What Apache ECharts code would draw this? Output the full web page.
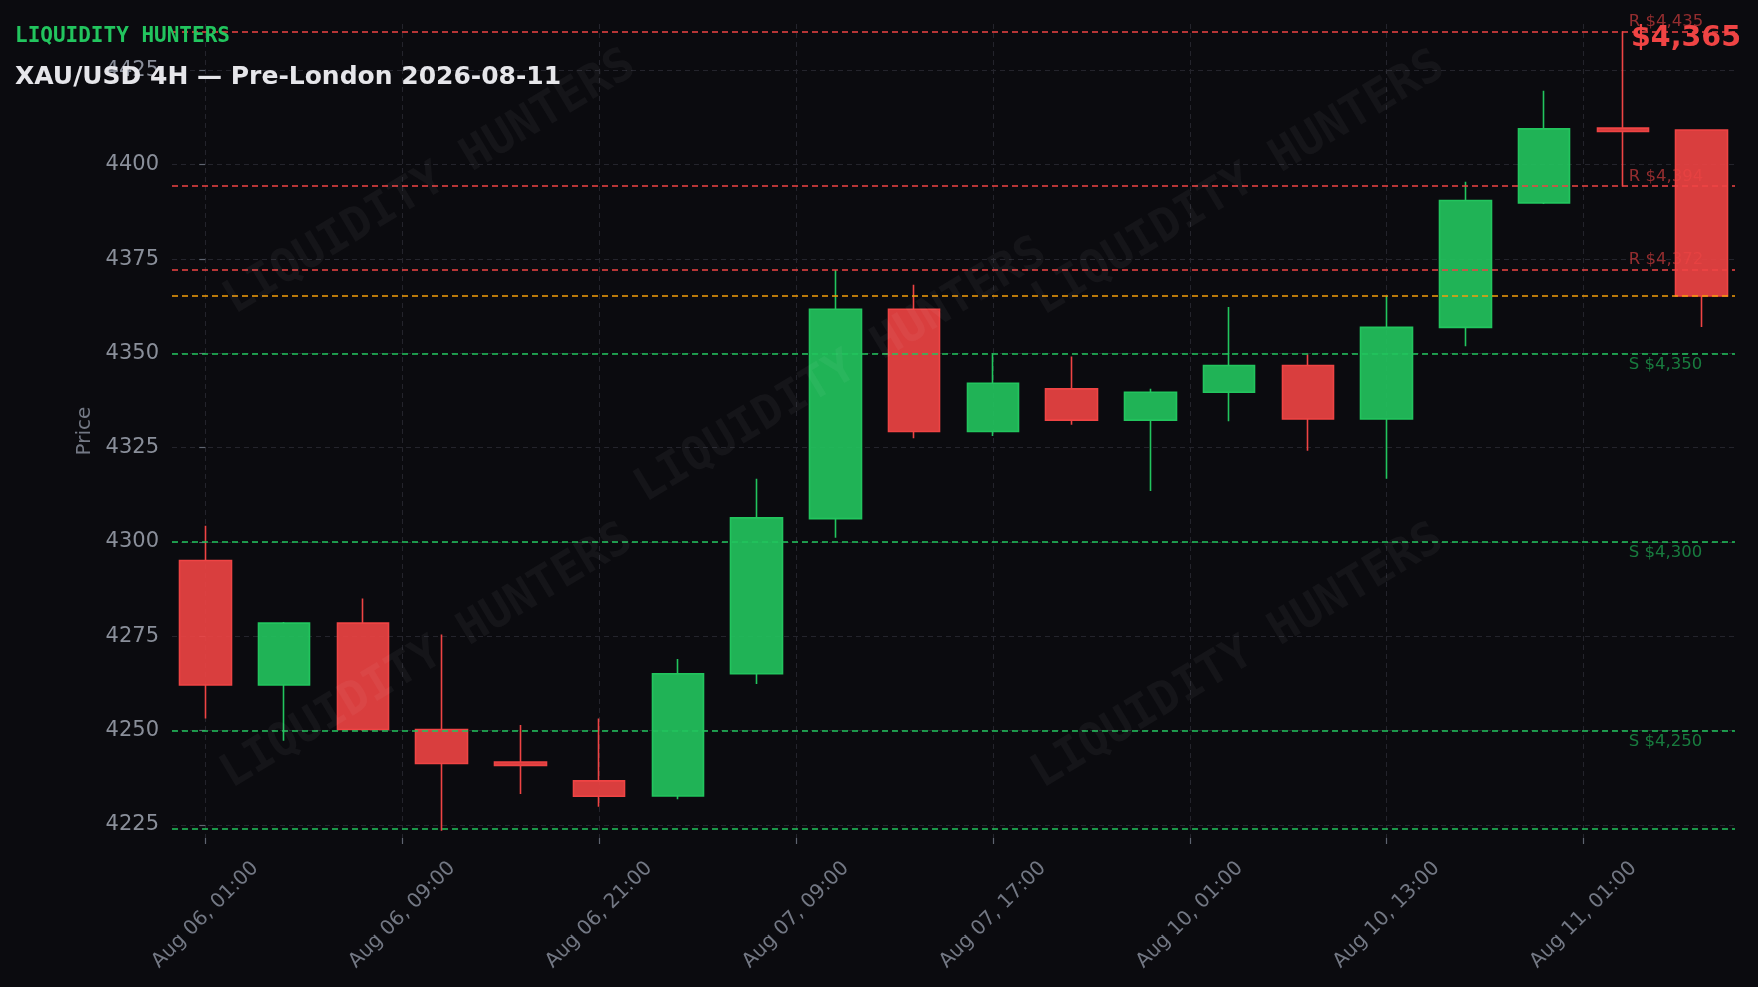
<!DOCTYPE html>
<html><head><meta charset="utf-8">
<script src="https://cdn.jsdelivr.net/npm/echarts@6/dist/echarts.min.js"></script>
<style>html,body{margin:0;padding:0;background:#0b0b0f;}#c{width:1758px;height:987px;}</style>
</head><body><div id="c"></div>
<script>
// ---- data ----
const tickPositions = [0, 2.5, 5, 7.5, 10, 12.5, 15, 17.5];
const tickLabels = ['Aug 06, 01:00','Aug 06, 09:00','Aug 06, 21:00','Aug 07, 09:00','Aug 07, 17:00','Aug 10, 01:00','Aug 10, 13:00','Aug 11, 01:00'];
const yTicks = [4225, 4250, 4275, 4300, 4325, 4350, 4375, 4400, 4425];
const opens  = [4295.1,4262.1,4278.5,4250.3,4241.7,4236.7,4232.7,4265.1,4306.2,4361.7,4329.3,4340.6,4332.3,4339.7,4346.8,4332.6,4356.9,4389.9,4409.7,4409.2];
const closes = [4262.1,4278.5,4250.3,4241.3,4240.8,4232.6,4265.1,4306.4,4361.7,4329.3,4342.1,4332.3,4339.7,4346.8,4332.6,4356.9,4390.5,4409.5,4408.8,4365.2];
const lows   = [4253.2,4247.3,4250.0,4223.5,4233.2,4229.8,4231.8,4262.4,4301.1,4327.5,4328.1,4331.1,4313.5,4332.0,4324.2,4316.8,4351.9,4389.6,4394.2,4357.0];
const highs  = [4304.3,4278.8,4285.0,4275.5,4251.5,4253.2,4269.0,4316.8,4372.1,4368.2,4350.0,4349.2,4340.6,4362.3,4349.8,4365.2,4395.5,4419.6,4435.4,4409.4];
const resistance = [4435.3, 4394.3, 4372.2];
const support = [4350, 4300, 4250, 4224.1];
const currentPrice = 4365.2;
const brand = 'LIQUIDITY HUNTERS';
const title = 'XAU/USD 4H — Pre-London 2026-08-11';

// ---- chart ----
const Y_MIN = 4221.55, Y_MAX = 4437.3;
const LABEL_X = 18.08;
const RED = '#ef4444', GREEN = '#22c55e', ORANGE = '#f59e0b';
const fmt = v => '$' + Math.round(v).toLocaleString('en-US');

const candles = opens.map((o, i) => [i, o, closes[i], lows[i], highs[i]]);

const levelLines = []
  .concat(resistance.map(v => ({yAxis: v, lineStyle: {color: RED, type: [6, 4], width: 1.5}})))
  .concat(support.map(v => ({yAxis: v, lineStyle: {color: GREEN, type: [6, 4], width: 1.5}})))
  .concat([{yAxis: currentPrice, lineStyle: {color: ORANGE, type: [6, 4], width: 1.5}}]);

const labelPoints = []
  .concat(resistance.map(v => ({value: [LABEL_X, v], label: {formatter: 'R ' + fmt(v), color: 'rgba(239,68,68,0.75)', verticalAlign: 'bottom', offset: [0, -1]}})))
  .concat(support.filter(v => v - 6 > Y_MIN).map(v => ({value: [LABEL_X, v], label: {formatter: 'S ' + fmt(v), color: 'rgba(34,197,94,0.75)', verticalAlign: 'top', offset: [0, 3]}})));

const wmPos = [[430, 183], [1239, 184], [841, 371], [427, 657], [1238, 657]];
const graphics = wmPos.map(p => ({
  type: 'text', x: p[0], y: p[1], rotation: 31 * Math.PI / 180, z: 100, silent: true,
  style: {text: brand, font: 'bold 46px "DejaVu Sans Mono"', fill: 'rgba(255,255,255,0.045)',
          textAlign: 'center', align: 'center', textVerticalAlign: 'middle', verticalAlign: 'middle'}
})).concat([
  {type: 'text', x: 15, y: 37, z: 120, silent: true,
   style: {text: brand, font: 'bold 21px "DejaVu Sans Mono"', fill: GREEN, textVerticalAlign: 'middle', verticalAlign: 'middle'}},
  {type: 'text', x: 15, y: 77.5, z: 120, silent: true,
   style: {text: title, font: 'bold 25px "DejaVu Sans"', fill: '#e6e6ea', textVerticalAlign: 'middle', verticalAlign: 'middle'}},
  {type: 'text', x: 1631, y: 39, z: 120, silent: true,
   style: {text: fmt(currentPrice), font: 'bold 28.5px "DejaVu Sans"', fill: RED, textVerticalAlign: 'middle', verticalAlign: 'middle'}}
]);

const chart = echarts.init(document.getElementById('c'), null, {renderer: 'canvas'});
chart.setOption({
  backgroundColor: '#0b0b0f',
  animation: false,
  textStyle: {fontFamily: 'DejaVu Sans'},
  grid: {left: 172, right: 23, top: 24, bottom: 149, containLabel: false},
  xAxis: {
    type: 'value', min: -0.423, max: 19.423,
    axisLine: {show: false},
    axisTick: {show: true, length: 6, customValues: tickPositions, lineStyle: {color: '#5f6470', width: 1.2}},
    axisLabel: {customValues: tickPositions, formatter: v => tickLabels[tickPositions.indexOf(v)] || '',
      rotate: 45, align: 'center', verticalAlign: 'middle', margin: 77, color: '#737884', fontSize: 20, fontFamily: 'DejaVu Sans'},
    splitLine: {show: true, lineStyle: {color: '#24242c', type: [5, 4], width: 1}}
  },
  yAxis: {
    type: 'value', min: Y_MIN, max: Y_MAX,
    name: 'Price', nameLocation: 'middle', nameGap: 66,
    nameTextStyle: {color: '#737884', fontSize: 20, fontFamily: 'DejaVu Sans'},
    axisLine: {show: false},
    axisTick: {show: true, length: 6, customValues: yTicks, lineStyle: {color: '#5f6470', width: 1.2}},
    axisLabel: {customValues: yTicks, formatter: v => String(v), margin: 13, color: '#8a8f9a', fontSize: 21, fontFamily: 'DejaVu Sans', padding: [3, 0, 0, 0]},
    splitLine: {show: true, lineStyle: {color: '#24242c', type: [5, 4], width: 1}}
  },
  series: [
    {
      type: 'candlestick', data: candles, encode: {x: 0, y: [1, 2, 3, 4]}, barWidth: 52,
      itemStyle: {color: 'rgba(34,197,94,0.9)', color0: 'rgba(239,68,68,0.9)', borderColor: GREEN, borderColor0: RED, borderWidth: 1.6},
      markLine: {symbol: 'none', silent: true, label: {show: false}, data: levelLines}
    },
    {
      type: 'scatter', data: labelPoints, symbolSize: 1, itemStyle: {color: 'rgba(0,0,0,0)'}, silent: true, z: 5,
      label: {show: true, position: [0, 0], align: 'left', fontSize: 16.5, fontFamily: 'DejaVu Sans'}
    }
  ],
  graphic: graphics
});
</script></body></html>
